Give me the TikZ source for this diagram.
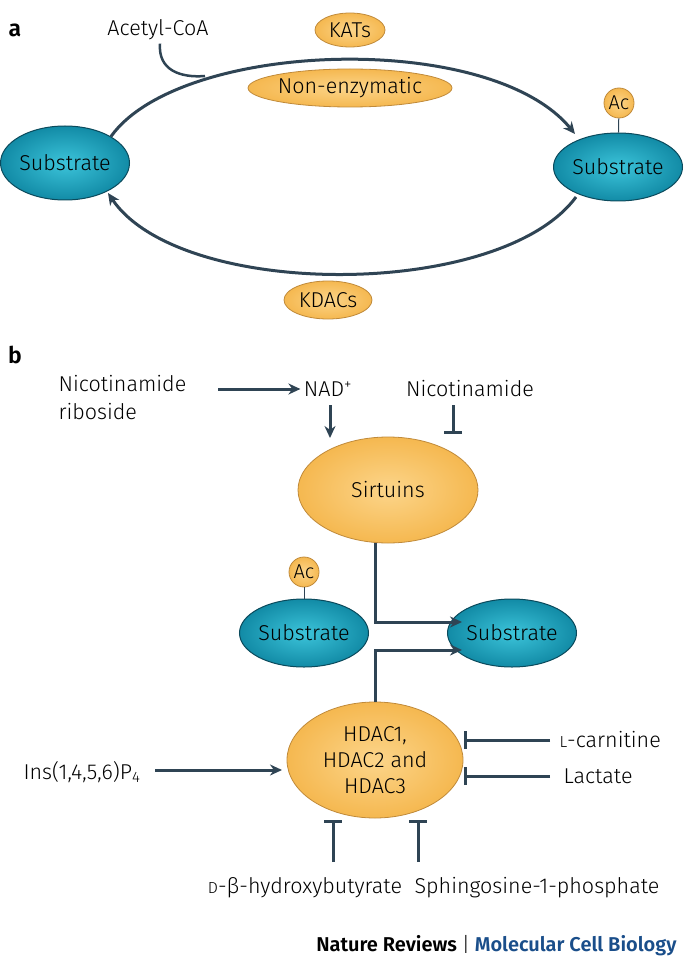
\documentclass[tikz,border=0pt]{standalone}
\usepackage{fontspec}
\setmainfont{Fira Sans Light}[BoldFont=Fira Sans SemiBold]
\usetikzlibrary{arrows.meta,shapes.geometric}
\definecolor{ln}{HTML}{2F4454}
\definecolor{blu}{HTML}{1A4E8A}
\definecolor{orin}{HTML}{FCD58A}
\definecolor{orout}{HTML}{F5B850}
\definecolor{orbd}{HTML}{C08A3A}
\definecolor{tin}{HTML}{3CC4DA}
\definecolor{tout}{HTML}{128BA6}
\definecolor{tbd}{HTML}{0B4A5C}
\tikzset{
 every node/.style={font=\fontsize{21.5}{26}\selectfont},
 con/.style={draw=ln,line width=3pt},
 arr/.style={con,-{Stealth[length=12pt,width=11pt]}},
 inh/.style={con,-{Bar[width=18pt]}},
 enz/.style={ellipse,draw=orbd,line width=0.8pt,inner color=orin,outer color=orout,inner sep=0pt},
 sub/.style={ellipse,draw=tbd,line width=1pt,inner color=tin,outer color=tout,inner sep=0pt,minimum width=112pt,minimum height=68pt},
 ac/.style={circle,enz,minimum size=30pt,font=\fontsize{20}{22}\selectfont}
}
\begin{document}
\begin{tikzpicture}[x=1pt,y=-1pt]
\useasboundingbox (0,0) rectangle (685,968);
\node[font=\fontsize{23}{24}\selectfont\bfseries] (la) at (15,30) {a};
\node (acoa) at (158,30) {Acetyl-CoA};
\node[enz,minimum width=70pt,minimum height=34pt] (kat) at (350,30) {KATs};
\node[enz,minimum width=158pt,minimum height=38pt] (ne) at (350,88) {Non-enzymatic};
\node[sub,minimum width=118pt,minimum height=74pt] (s1) at (65,163) {Substrate};
\node[sub] (s2) at (618,167) {Substrate};
\node[ac] (ac1) at (619,103) {Ac};
\draw[ln,line width=1pt] (ac1) -- (s2);
\coordinate (j) at (205,76);
\draw[arr] (s1.north east) .. controls (180,40) and (490,30) .. (575,134);
\draw[con,line width=2.5pt] (acoa.south) ++(2,0) .. controls (158,70) and (180,78) .. (j);
\draw[arr] (576,197) .. controls (500,300) and (180,300) .. (108,193);
\node[enz,minimum width=88pt,minimum height=38pt] (kd) at (328,300) {KDACs};
% b
\node[font=\fontsize{23}{24}\selectfont\bfseries] (lb) at (15,355) {b};
\node[align=left,anchor=north west,font=\fontsize{21.5}{28}\selectfont] (nr) at (55,372) {Nicotinamide\\riboside};
\node (nad) at (328,389) {NAD\textsuperscript{+}};
\node (nic) at (470,389) {Nicotinamide};
\node[enz,minimum width=180pt,minimum height=106pt] (sir) at (388,490) {Sirtuins};
\draw[arr] (218,389) -- (nad.west);
\draw[arr] (330,405) -- (330,438);
\draw[inh] (453,405) -- (453,434);
\node[sub] (s3) at (304,633) {Substrate};
\node[ac] (ac2) at (304,572) {Ac};
\draw[ln,line width=1pt] (ac2) -- (s3);
\node[sub] (s4) at (512,633) {Substrate};
\node[enz,minimum width=176pt,minimum height=116pt,align=center,font=\fontsize{21.5}{26}\selectfont] (hd) at (375,760) {HDAC1,\\HDAC2 and\\HDAC3};
\draw[arr] (375,543) -- (375,622) -- (462,622);
\draw[arr] (hd.north) -- (375,650) -- (462,650);
\node (ins) at (82,772) {Ins(1,4,5,6)P\textsubscript{4}};
\draw[arr] (155,770) -- (282,770);
\node[anchor=west] (car) at (556,740) {{\fontsize{16}{18}\selectfont L}-carnitine};
\node[anchor=west] (lac) at (560,776) {Lactate};
\draw[inh] (550,740) -- (464,740);
\draw[inh] (550,776) -- (464,776);
\node (hb) at (305,888) {{\fontsize{16}{18}\selectfont D}-β-hydroxybutyrate};
\node (sp) at (537,888) {Sphingosine-1-phosphate};
\draw[inh] (333,862) -- (333,820);
\draw[inh] (418,862) -- (418,820);
\node[anchor=east,font=\fontsize{20}{24}\selectfont\bfseries] (ft) at (680,946) {Nature Reviews \textmd{|} \textcolor{blu}{Molecular Cell Biology}};
\end{tikzpicture}
\end{document}
